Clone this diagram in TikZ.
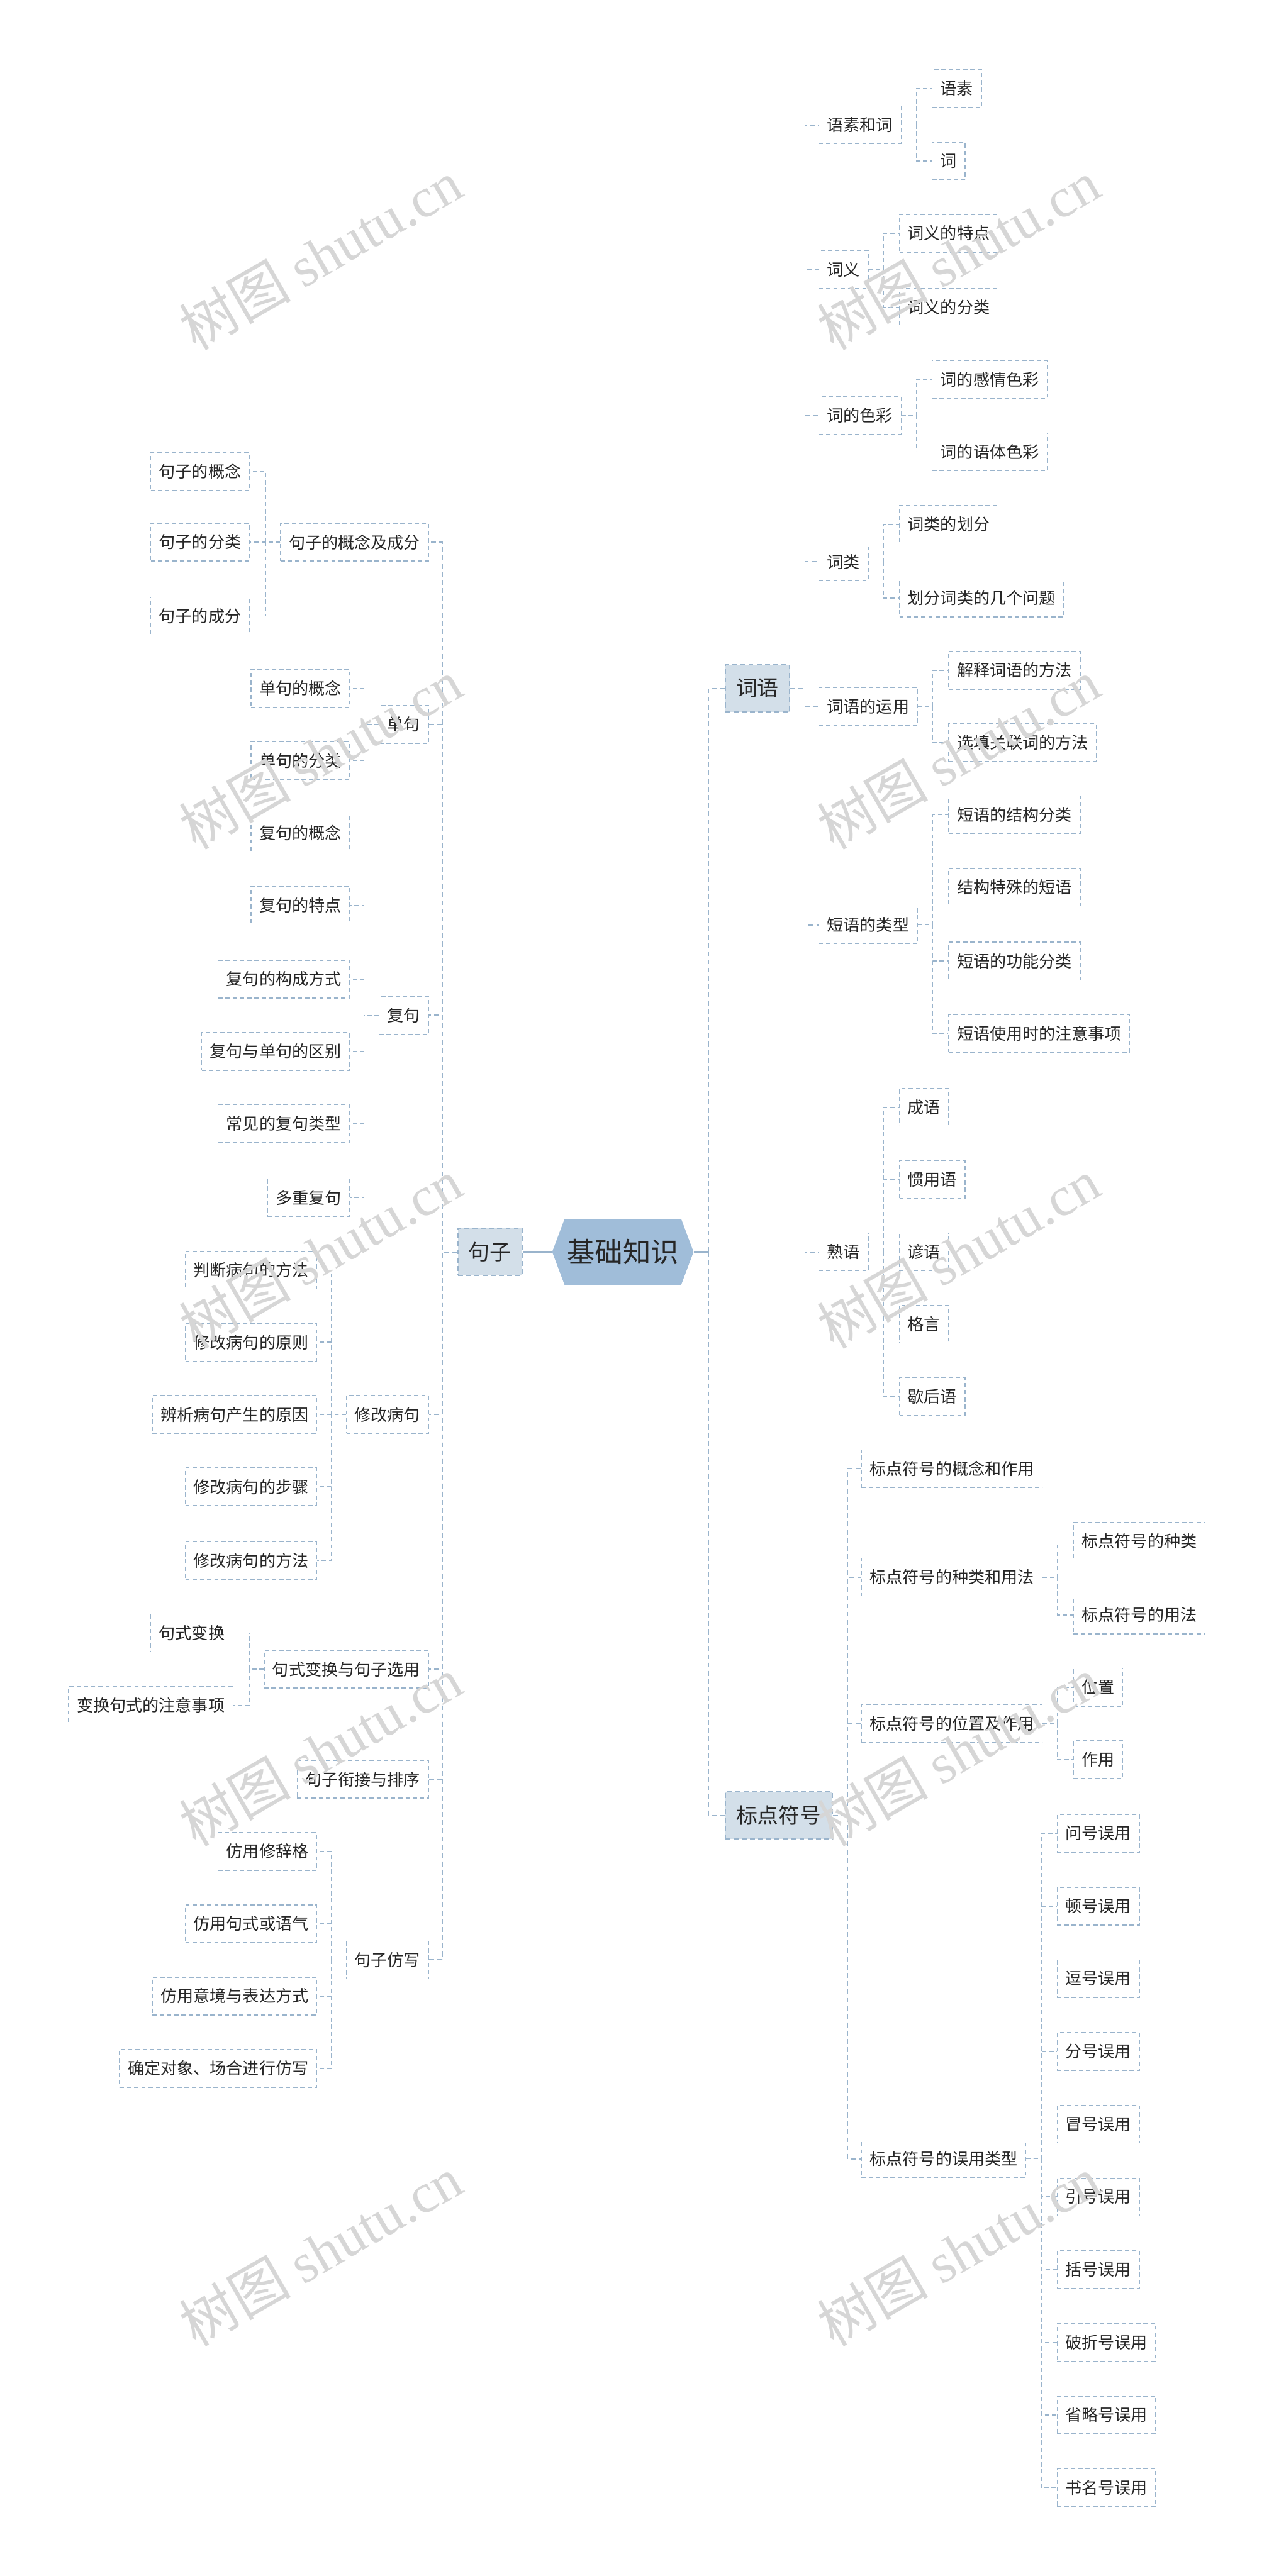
\documentclass[tikz,border=0pt]{standalone}
\usepackage{fontspec}
\setmainfont{Noto Sans CJK SC}
\newfontfamily\wmserif{Liberation Serif}
\usepackage{tikz}
\definecolor{linecol}{HTML}{9AB4CC}
\definecolor{rootfill}{HTML}{A0BDD9}
\definecolor{topicfill}{HTML}{D3DFE9}
\definecolor{txtcol}{HTML}{262626}
\definecolor{wmgray}{HTML}{D6D6D6}
\tikzset{
  itembox/.style={draw=linecol, line width=0.5pt, dash pattern=on 2.6pt off 1.8pt, text=txtcol,
    font=\fontsize{10}{12}\selectfont, inner xsep=5pt, inner ysep=0pt, minimum height=23pt},
  topicbox/.style={draw=linecol, fill=topicfill, line width=0.8pt, dash pattern=on 3pt off 2pt, text=txtcol,
    font=\fontsize{13}{15}\selectfont, inner xsep=6.5pt, inner ysep=0pt, minimum height=29pt},
  rootbox/.style={text=txtcol, font=\fontsize{17}{19}\selectfont, inner sep=0pt, minimum width=86pt, minimum height=40pt,
    path picture={\fill[rootfill] (path picture bounding box.west) -- ([xshift=7.5pt]path picture bounding box.north west)
      -- ([xshift=-7.5pt]path picture bounding box.north east) -- (path picture bounding box.east)
      -- ([xshift=-7.5pt]path picture bounding box.south east) -- ([xshift=7.5pt]path picture bounding box.south west) -- cycle;}},
  itemlink/.style={draw=linecol, line width=0.6pt, dash pattern=on 2.6pt off 1.8pt},
  topiclink/.style={draw=linecol, line width=0.75pt, dash pattern=on 3pt off 2pt},
  rootlink/.style={draw=linecol, line width=1.2pt},
  wmark/.style={text=wmgray, font=\fontsize{34}{34}\selectfont, rotate=30, inner sep=0pt}
}
\begin{document}
\begin{tikzpicture}[x=1pt,y=-1pt]
\useasboundingbox (0,0) rectangle (775,1568);
\fill[white] (0,0) rectangle (775,1568);

\node[rootbox] (root) at (379,762) {基础知识};
\node[topicbox, anchor=east] (juzi) at (318,762) {句子};
\node[topicbox, anchor=west] (ciyu) at (441,419) {词语};
\node[topicbox, anchor=west] (biaodian) at (441,1105) {标点符号};
\coordinate (rspine) at ([xshift=9pt]root.east);
\draw[rootlink] (root.east) -- (rspine);
\draw[rootlink] (root.west) -- (juzi.east);
\draw[topiclink] (rspine) |- (ciyu.west);
\draw[topiclink] (rspine) |- (biaodian.west);

% 词语
\node[itembox, anchor=west] (cy1) at (498,76) {语素和词};
\node[itembox, anchor=west] (cy2) at (498,164) {词义};
\node[itembox, anchor=west] (cy3) at (498,253) {词的色彩};
\node[itembox, anchor=west] (cy4) at (498,342) {词类};
\node[itembox, anchor=west] (cy5) at (498,430) {词语的运用};
\node[itembox, anchor=west] (cy6) at (498,563) {短语的类型};
\node[itembox, anchor=west] (cy7) at (498,762) {熟语};
\foreach \nd in {cy1,cy2,cy3,cy4,cy5,cy6,cy7}
  \draw[topiclink] (ciyu.east) -- ++(9,0) |- (\nd.west);

\node[itembox, anchor=west] (cy1a) at (567,54) {语素};
\node[itembox, anchor=west] (cy1b) at (567,98) {词};
\node[itembox, anchor=west] (cy2a) at (547,142) {词义的特点};
\node[itembox, anchor=west] (cy2b) at (547,187) {词义的分类};
\node[itembox, anchor=west] (cy3a) at (567,231) {词的感情色彩};
\node[itembox, anchor=west] (cy3b) at (567,275) {词的语体色彩};
\node[itembox, anchor=west] (cy4a) at (547,319) {词类的划分};
\node[itembox, anchor=west] (cy4b) at (547,364) {划分词类的几个问题};
\node[itembox, anchor=west] (cy5a) at (577,408) {解释词语的方法};
\node[itembox, anchor=west] (cy5b) at (577,452) {选填关联词的方法};
\node[itembox, anchor=west] (cy6a) at (577,496) {短语的结构分类};
\node[itembox, anchor=west] (cy6b) at (577,540) {结构特殊的短语};
\node[itembox, anchor=west] (cy6c) at (577,585) {短语的功能分类};
\node[itembox, anchor=west] (cy6d) at (577,629) {短语使用时的注意事项};
\node[itembox, anchor=west] (cy7a) at (547,674) {成语};
\node[itembox, anchor=west] (cy7b) at (547,718) {惯用语};
\node[itembox, anchor=west] (cy7c) at (547,762) {谚语};
\node[itembox, anchor=west] (cy7d) at (547,806) {格言};
\node[itembox, anchor=west] (cy7e) at (547,850) {歇后语};
\foreach \nd in {cy1a,cy1b} \draw[itemlink] (cy1.east) -- ++(9,0) |- (\nd.west);
\foreach \nd in {cy2a,cy2b} \draw[itemlink] (cy2.east) -- ++(9,0) |- (\nd.west);
\foreach \nd in {cy3a,cy3b} \draw[itemlink] (cy3.east) -- ++(9,0) |- (\nd.west);
\foreach \nd in {cy4a,cy4b} \draw[itemlink] (cy4.east) -- ++(9,0) |- (\nd.west);
\foreach \nd in {cy5a,cy5b} \draw[itemlink] (cy5.east) -- ++(9,0) |- (\nd.west);
\foreach \nd in {cy6a,cy6b,cy6c,cy6d} \draw[itemlink] (cy6.east) -- ++(9,0) |- (\nd.west);
\foreach \nd in {cy7a,cy7b,cy7c,cy7d,cy7e} \draw[itemlink] (cy7.east) -- ++(9,0) |- (\nd.west);

% 标点符号
\node[itembox, anchor=west] (bd1) at (524,894) {标点符号的概念和作用};
\node[itembox, anchor=west] (bd2) at (524,960) {标点符号的种类和用法};
\node[itembox, anchor=west] (bd3) at (524,1049) {标点符号的位置及作用};
\node[itembox, anchor=west] (bd4) at (524,1314) {标点符号的误用类型};
\foreach \nd in {bd1,bd2,bd3,bd4}
  \draw[topiclink] (biaodian.east) -- ++(9,0) |- (\nd.west);
\node[itembox, anchor=west] (bd2a) at (653,938) {标点符号的种类};
\node[itembox, anchor=west] (bd2b) at (653,983) {标点符号的用法};
\node[itembox, anchor=west] (bd3a) at (653,1027) {位置};
\node[itembox, anchor=west] (bd3b) at (653,1071) {作用};
\foreach \nd in {bd2a,bd2b} \draw[itemlink] (bd2.east) -- ++(9,0) |- (\nd.west);
\foreach \nd in {bd3a,bd3b} \draw[itemlink] (bd3.east) -- ++(9,0) |- (\nd.west);
\foreach \t [count=\i] in {问号误用,顿号误用,逗号误用,分号误用,冒号误用,引号误用,括号误用,破折号误用,省略号误用,书名号误用}{
  \node[itembox, anchor=west] (bd4\i) at (643,{1116+44.25*(\i-1)}) {\t};
  \draw[itemlink] (bd4.east) -- ++(9,0) |- (bd4\i.west);
}

% 句子
\node[itembox, anchor=east] (jz1) at (261,330) {句子的概念及成分};
\node[itembox, anchor=east] (jz2) at (261,441) {单句};
\node[itembox, anchor=east] (jz3) at (261,618) {复句};
\node[itembox, anchor=east] (jz4) at (261,861) {修改病句};
\node[itembox, anchor=east] (jz5) at (261,1016) {句式变换与句子选用};
\node[itembox, anchor=east] (jz6) at (261,1083) {句子衔接与排序};
\node[itembox, anchor=east] (jz7) at (261,1193) {句子仿写};
\foreach \nd in {jz1,jz2,jz3,jz4,jz5,jz6,jz7}
  \draw[topiclink] (juzi.west) -- ++(-9,0) |- (\nd.east);

\node[itembox, anchor=east] (jz1a) at (152,287) {句子的概念};
\node[itembox, anchor=east] (jz1b) at (152,330) {句子的分类};
\node[itembox, anchor=east] (jz1c) at (152,375) {句子的成分};
\node[itembox, anchor=east] (jz2a) at (213,419) {单句的概念};
\node[itembox, anchor=east] (jz2b) at (213,463) {单句的分类};
\node[itembox, anchor=east] (jz3a) at (213,507) {复句的概念};
\node[itembox, anchor=east] (jz3b) at (213,551) {复句的特点};
\node[itembox, anchor=east] (jz3c) at (213,596) {复句的构成方式};
\node[itembox, anchor=east] (jz3d) at (213,640) {复句与单句的区别};
\node[itembox, anchor=east] (jz3e) at (213,684) {常见的复句类型};
\node[itembox, anchor=east] (jz3f) at (213,729) {多重复句};
\node[itembox, anchor=east] (jz4a) at (193,773) {判断病句的方法};
\node[itembox, anchor=east] (jz4b) at (193,817) {修改病句的原则};
\node[itembox, anchor=east] (jz4c) at (193,861) {辨析病句产生的原因};
\node[itembox, anchor=east] (jz4d) at (193,905) {修改病句的步骤};
\node[itembox, anchor=east] (jz4e) at (193,950) {修改病句的方法};
\node[itembox, anchor=east] (jz5a) at (142,994) {句式变换};
\node[itembox, anchor=east] (jz5b) at (142,1038) {变换句式的注意事项};
\node[itembox, anchor=east] (jz7a) at (193,1127) {仿用修辞格};
\node[itembox, anchor=east] (jz7b) at (193,1171) {仿用句式或语气};
\node[itembox, anchor=east] (jz7c) at (193,1215) {仿用意境与表达方式};
\node[itembox, anchor=east] (jz7d) at (193,1259) {确定对象、场合进行仿写};
\foreach \nd in {jz1a,jz1b,jz1c} \draw[itemlink] (jz1.west) -- ++(-9,0) |- (\nd.east);
\foreach \nd in {jz2a,jz2b} \draw[itemlink] (jz2.west) -- ++(-9,0) |- (\nd.east);
\foreach \nd in {jz3a,jz3b,jz3c,jz3d,jz3e,jz3f} \draw[itemlink] (jz3.west) -- ++(-9,0) |- (\nd.east);
\foreach \nd in {jz4a,jz4b,jz4c,jz4d,jz4e} \draw[itemlink] (jz4.west) -- ++(-9,0) |- (\nd.east);
\foreach \nd in {jz5a,jz5b} \draw[itemlink] (jz5.west) -- ++(-9,0) |- (\nd.east);
\foreach \nd in {jz7a,jz7b,jz7c,jz7d} \draw[itemlink] (jz7.west) -- ++(-9,0) |- (\nd.east);

% watermark
\foreach \wx in {195,583}
  \foreach \wy in {155,459,763,1066,1370}
    \node[wmark] (wm\wx-\wy) at (\wx,\wy) {树图 {\wmserif shutu.cn}};
\end{tikzpicture}
\end{document}
